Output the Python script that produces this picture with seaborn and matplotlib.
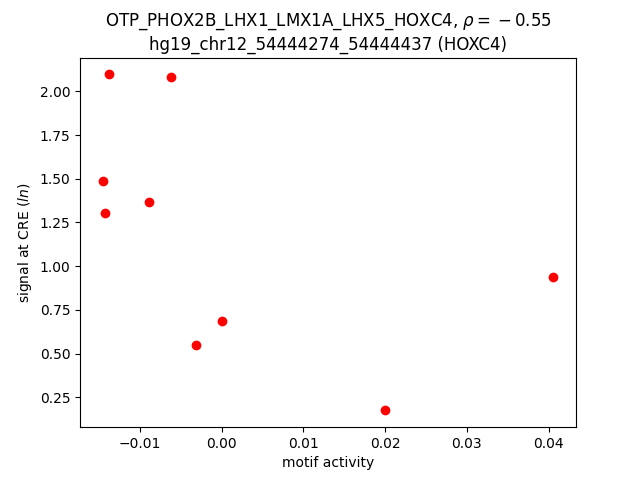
import pandas as pd
import matplotlib
matplotlib.use("Agg")
import matplotlib.pyplot as plt
import seaborn as sns

# values
motif_activity = [-0.01385, -0.00626, -0.0146, -0.01436, -0.00896, 0.0, -0.0032, 0.0200, 0.0406]
signal_cre = [2.097, 2.080, 1.490, 1.302, 1.365, 0.685, 0.548, 0.175, 0.937]

df = pd.DataFrame({"motif activity": motif_activity, "signal": signal_cre})

fig, ax = plt.subplots(figsize=(6.4, 4.8), dpi=100)
sns.scatterplot(data=df, x="motif activity", y="signal", color="red",
                edgecolor="red", s=36, linewidth=1, ax=ax)

ax.set_title("OTP_PHOX2B_LHX1_LMX1A_LHX5_HOXC4, $\\rho = {}-0.55$\n"
             "hg19_chr12_54444274_54444437 (HOXC4)")
ax.set_xlabel("motif activity")
ax.set_ylabel("signal at CRE ($ln$)")

fig.savefig("out.png", dpi=100)
